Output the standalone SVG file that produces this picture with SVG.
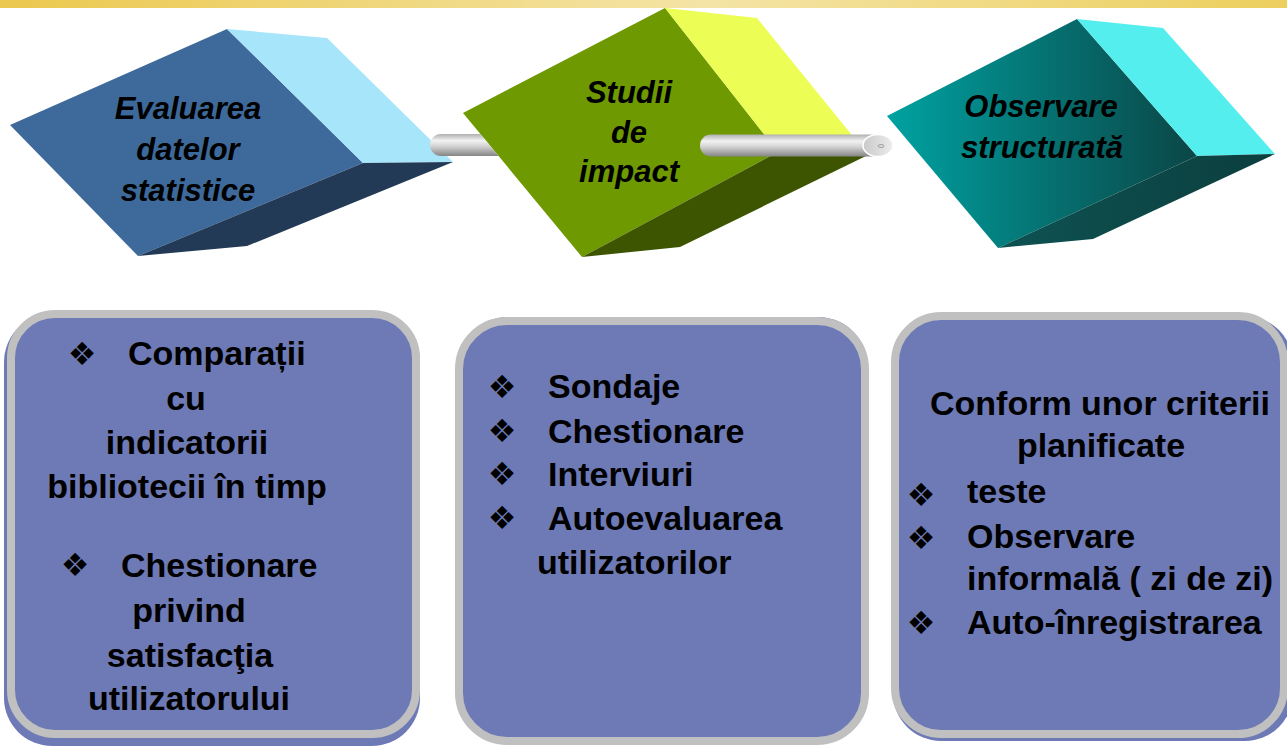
<svg xmlns="http://www.w3.org/2000/svg" width="1287" height="746" viewBox="0 0 1287 746">
<defs>
<linearGradient id="band" x1="0" y1="0" x2="1" y2="0">
<stop offset="0" stop-color="#EBC84E"/>
<stop offset="0.55" stop-color="#F4E4A6"/>
<stop offset="1" stop-color="#ECCF5E"/>
</linearGradient>
<linearGradient id="tealFront" gradientUnits="userSpaceOnUse" x1="887" y1="140" x2="1197" y2="140">
<stop offset="0" stop-color="#00A2A2"/>
<stop offset="0.55" stop-color="#066E6E"/>
<stop offset="1" stop-color="#0B4646"/>
</linearGradient>
<linearGradient id="tealBottom" gradientUnits="userSpaceOnUse" x1="998" y1="200" x2="1275" y2="200">
<stop offset="0" stop-color="#0E5252"/>
<stop offset="1" stop-color="#0C3E3E"/>
</linearGradient>
<linearGradient id="pipe" x1="0" y1="0" x2="0" y2="1">
<stop offset="0" stop-color="#B0B0B0"/>
<stop offset="0.3" stop-color="#F2F2F2"/>
<stop offset="0.55" stop-color="#D4D4D4"/>
<stop offset="1" stop-color="#858585"/>
</linearGradient>
<linearGradient id="pipeEnd" x1="0" y1="0" x2="1" y2="0">
<stop offset="0" stop-color="#C9C9C9"/>
<stop offset="1" stop-color="#EDEDED"/>
</linearGradient>
<style>
.lbl{font-family:"Liberation Sans",Arial,sans-serif;font-weight:bold;font-style:italic;font-size:31px;fill:#000;text-anchor:middle}
.txt{font-family:"Liberation Sans",Arial,sans-serif;font-weight:bold;font-size:34px;fill:#000}
.mid{text-anchor:middle}
.bul{font-family:"DejaVu Sans",sans-serif;font-weight:bold;font-size:32px;fill:#000;text-anchor:middle}
.shadow{fill:#6E7AB5}
.panel{fill:#6E7AB5;stroke:#C0C0C0;stroke-width:8}
</style>
</defs>
<rect x="0" y="0" width="1287" height="746" fill="#FFFFFF"/>
<rect x="0" y="0" width="1287" height="8" fill="url(#band)"/>

<g id="node-evaluarea">
<polygon points="10,125 227,29 363,163 138,256" fill="#3D6A9B"/>
<polygon points="227,29 327,38 453,162 363,163" fill="#A7E5FB"/>
<polygon points="138,256 363,163 453,162 247,246" fill="#233A56"/>
<text class="lbl" x="188" y="119">Evaluarea</text>
<text class="lbl" x="188" y="160">datelor</text>
<text class="lbl" x="188" y="201">statistice</text>
</g>

<g id="node-studii">
<polygon points="463,113 665,8 778,152 582,257" fill="#6E9900"/>
<polygon points="665,8 757,18 868,155 778,152" fill="#ECFD56"/>
<polygon points="582,257 778,152 868,155 680,247" fill="#3D5500"/>
<text class="lbl" x="629" y="103">Studii</text>
<text class="lbl" x="629" y="143">de</text>
<text class="lbl" x="629" y="182">impact</text>
</g>

<g id="node-observare">
<polygon points="887,116 1077,19 1197,156 998,248" fill="url(#tealFront)"/>
<polygon points="1077,19 1163,28 1275,154 1197,156" fill="#55EEEE"/>
<polygon points="998,248 1197,156 1275,154 1093,239" fill="url(#tealBottom)"/>
<text class="lbl" x="1041" y="117">Observare</text>
<text class="lbl" x="1042" y="158">structurată</text>
</g>

<g id="connectors">
<path d="M441,134 L480.4,134 L498.6,156 L441,156 A11,11 0 0 1 441,134 Z" fill="url(#pipe)"/>
<path d="M711,134.5 L878,134.5 L878,156.5 L711,156.5 A11,11 0 0 1 711,134.5 Z" fill="url(#pipe)"/>
<ellipse cx="878" cy="145.5" rx="15" ry="11" fill="url(#pipeEnd)" stroke="#FFFFFF" stroke-width="1.5"/>
<ellipse cx="881" cy="146" rx="3" ry="1.5" fill="none" stroke="#A0A0A0" stroke-width="1"/>
</g>

<g id="panel-1">
<rect class="shadow" x="4" y="314" width="416" height="432" rx="48"/>
<rect class="panel" x="11" y="314" width="405" height="420" rx="44"/>
<text class="bul" x="82" y="365">❖</text>
<text class="txt" x="128" y="365">Comparații</text>
<text class="txt mid" x="186" y="410">cu</text>
<text class="txt mid" x="187" y="454">indicatorii</text>
<text class="txt mid" x="187" y="498">bibliotecii în timp</text>
<text class="bul" x="75" y="576">❖</text>
<text class="txt" x="121" y="577">Chestionare</text>
<text class="txt mid" x="189" y="622">privind</text>
<text class="txt mid" x="190" y="667">satisfacţia</text>
<text class="txt mid" x="189" y="710">utilizatorului</text>
</g>

<g id="panel-2">
<rect class="shadow" x="458" y="317" width="410" height="424" rx="50"/>
<rect class="panel" x="459" y="321" width="406" height="420" rx="48"/>
<text class="bul" x="502" y="398">❖</text>
<text class="txt" x="548" y="398">Sondaje</text>
<text class="bul" x="502" y="442">❖</text>
<text class="txt" x="548" y="443">Chestionare</text>
<text class="bul" x="502" y="485">❖</text>
<text class="txt" x="548" y="486">Interviuri</text>
<text class="bul" x="502" y="529">❖</text>
<text class="txt" x="548" y="530">Autoevaluarea</text>
<text class="txt" x="537" y="574">utilizatorilor</text>
</g>

<g id="panel-3">
<rect class="shadow" x="893" y="316" width="400" height="425" rx="48"/>
<rect class="panel" x="895" y="316" width="389" height="418" rx="46"/>
<text class="txt mid" x="1100" y="415">Conform unor criterii</text>
<text class="txt mid" x="1101" y="457">planificate</text>
<text class="bul" x="921" y="506">❖</text>
<text class="txt" x="967" y="503">teste</text>
<text class="bul" x="921" y="549">❖</text>
<text class="txt" x="967" y="548">Observare</text>
<text class="txt" x="967" y="590">informală ( zi de zi)</text>
<text class="bul" x="921" y="634">❖</text>
<text class="txt" x="967" y="634">Auto-înregistrarea</text>
</g>
</svg>
